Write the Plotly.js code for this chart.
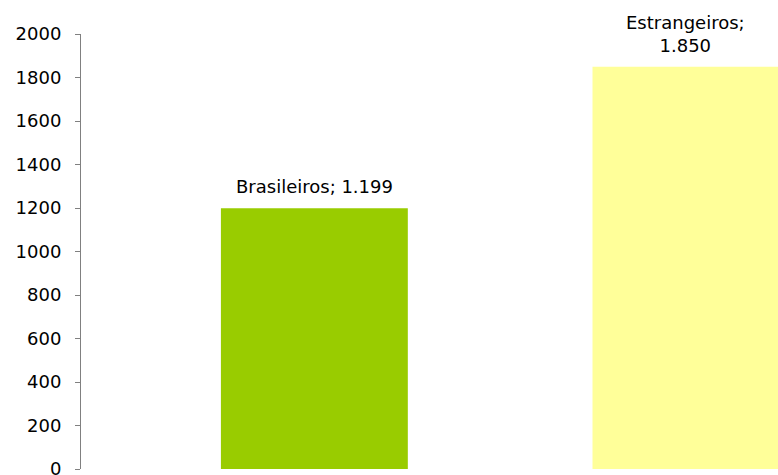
<!DOCTYPE html>
<html>
<head>
<meta charset="utf-8">
<script src="https://cdn.plot.ly/plotly-3.0.1.min.js"></script>
<style>html,body{margin:0;padding:0;background:#fff;}#chart{width:778px;height:475px;}</style>
</head>
<body>
<div id="chart"></div>
<script>
const categories = ['Brasileiros', 'Estrangeiros'];
const values = [1199, 1850];
const barColors = ['#99CC00', '#FFFF99'];
const tickValues = [0, 200, 400, 600, 800, 1000, 1200, 1400, 1600, 1800, 2000];

function fmtPt(v) {
  return String(v).replace(/\B(?=(\d{3})+(?!\d))/g, '.');
}

const labelSep = ['; ', ';<br>'];
const FONT = 'DejaVu Sans, Verdana, sans-serif';

const trace = {
  type: 'bar',
  x: categories,
  y: values,
  width: 0.503,
  marker: {color: barColors, line: {width: 0}},
  hoverinfo: 'skip'
};

const annotations = categories.map((c, i) => ({
  x: c, y: values[i], xref: 'x', yref: 'y',
  text: c + labelSep[i] + fmtPt(values[i]),
  showarrow: false, yanchor: 'bottom', yshift: 9,
  font: {family: FONT, size: 18, color: '#000'}
}));

const layout = {
  width: 778, height: 475,
  margin: {l: 81, r: 0, t: 34, b: 6, pad: 0},
  paper_bgcolor: '#fff', plot_bgcolor: '#fff',
  showlegend: false,
  font: {family: FONT, size: 18, color: '#000'},
  xaxis: {
    type: 'category',
    range: [-0.628, 1.2477],
    showticklabels: false, showline: false, showgrid: false, zeroline: false, ticks: ''
  },
  yaxis: {
    range: [0, 2000],
    tickvals: tickValues,
    ticktext: tickValues.map(String),
    showline: true, linecolor: '#808080', linewidth: 1,
    ticks: 'outside', ticklen: 5, tickcolor: '#808080', tickwidth: 1,
    ticklabelstandoff: 10,
    ticklabeloverflow: 'allow',
    showgrid: false, zeroline: false,
    tickfont: {family: FONT, size: 18, color: '#000'}
  },
  annotations: annotations
};

Plotly.newPlot('chart', [trace], layout, {staticPlot: true, displayModeBar: false});
</script>
</body>
</html>
